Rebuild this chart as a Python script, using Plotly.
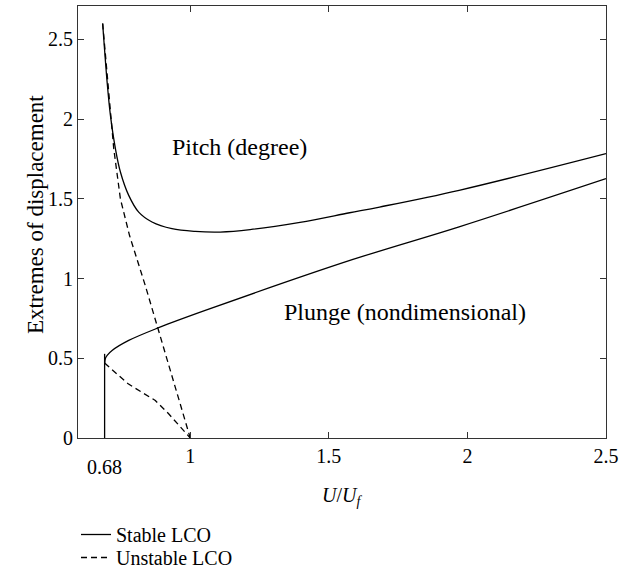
import plotly.graph_objects as go

# ---- data ----
pitch_stable_x = [0.684, 0.700, 0.712, 0.730, 0.748, 0.778, 0.814, 0.862, 0.934, 1.018,
                  1.108, 1.216, 1.396, 1.575, 1.683, 1.97, 2.5]
pitch_stable_y = [2.60, 2.234, 2.024, 1.815, 1.669, 1.522, 1.417, 1.355, 1.313, 1.296,
                  1.292, 1.307, 1.353, 1.413, 1.449, 1.554, 1.784]

plunge_stable_x = [0.691, 0.694, 0.701, 0.718, 0.778, 0.886, 1.054, 1.587, 1.97, 2.5]
plunge_stable_y = [0.47, 0.50, 0.52, 0.549, 0.612, 0.692, 0.80, 1.12, 1.325, 1.627]

branch_x = [0.691, 0.691]
branch_y = [0.0, 0.528]

pitch_unstable_x = [0.684, 0.697, 0.706, 0.724, 0.748, 0.781, 0.838, 0.886, 0.934, 1.0]
pitch_unstable_y = [2.60, 2.35, 2.171, 1.815, 1.50, 1.27, 0.955, 0.675, 0.395, 0.0]

plunge_unstable_x = [0.691, 0.776, 0.874, 0.922, 1.0]
plunge_unstable_y = [0.47, 0.34, 0.235, 0.152, 0.0]

x_ticks = [1, 1.5, 2, 2.5]
x_tick_text = ["1", "1.5", "2", "2.5"]
onset_label = "0.68"

FONT = "Liberation Serif"
FS = 20
FS_BIG = 24
solid = dict(color="black", width=1.3)
dashed = dict(color="black", width=1.3, dash="6px,4px")

fig = go.Figure()
fig.add_trace(go.Scatter(x=pitch_stable_x, y=pitch_stable_y, mode="lines", line=solid,
                         name="Stable LCO", legend="legend", line_shape="spline"))
fig.add_trace(go.Scatter(x=plunge_stable_x, y=plunge_stable_y, mode="lines", line=solid,
                         showlegend=False, line_shape="spline"))
fig.add_trace(go.Scatter(x=branch_x, y=branch_y, mode="lines", line=solid,
                         showlegend=False))
fig.add_trace(go.Scatter(x=pitch_unstable_x, y=pitch_unstable_y, mode="lines", line=dashed,
                         name="Unstable LCO", legend="legend2"))
fig.add_trace(go.Scatter(x=plunge_unstable_x, y=plunge_unstable_y, mode="lines", line=dashed,
                         showlegend=False))

fig.add_annotation(x=1.176, y=1.824, text="Pitch (degree)", showarrow=False,
                   font=dict(family=FONT, size=FS_BIG, color="black"))
fig.add_annotation(x=1.773, y=0.79, text="Plunge (nondimensional)", showarrow=False,
                   font=dict(family=FONT, size=FS_BIG, color="black"))
fig.add_annotation(x=0.691, xref="x", y=-0.067, yref="paper", text=onset_label,
                   showarrow=False, yanchor="middle",
                   font=dict(family=FONT, size=FS, color="black"))
fig.add_annotation(x=0.5, xref="paper", y=-0.136, yref="paper",
                   text="<i>U</i>/<i>U</i><sub><i>f</i></sub>", showarrow=False,
                   yanchor="middle", font=dict(family=FONT, size=FS, color="black"))
fig.add_annotation(x=-0.0814, xref="paper", y=0.516, yref="paper",
                   text="Extremes of displacement", textangle=-90, showarrow=False,
                   xanchor="center", yanchor="middle",
                   font=dict(family=FONT, size=23, color="black"))

axis_common = dict(showline=True, linecolor="#333", linewidth=1, mirror="ticks",
                   ticks="inside", ticklen=6, tickcolor="#333", showgrid=False,
                   zeroline=False, tickfont=dict(family=FONT, size=FS, color="black"))

legend_common = dict(xref="container", yref="container", x=76/634,
                     xanchor="left", yanchor="top", bgcolor="rgba(0,0,0,0)",
                     font=dict(family=FONT, size=FS, color="black"))

fig.update_layout(
    width=634, height=572,
    margin=dict(l=78, r=28, t=6, b=134, autoexpand=False),
    paper_bgcolor="white", plot_bgcolor="white",
    font=dict(family=FONT, size=FS, color="black"),
    xaxis=dict(range=[0.595, 2.5], tickvals=x_ticks, ticktext=x_tick_text, **axis_common),
    yaxis=dict(range=[0, 2.71], dtick=0.5, **axis_common),
    legend=dict(y=1 - 515/572, **legend_common),
    legend2=dict(y=1 - 538/572, **legend_common),
    showlegend=True,
)

fig.write_html("out.html", config={"displayModeBar": False},
               post_script="document.body.style.margin='0px';")
